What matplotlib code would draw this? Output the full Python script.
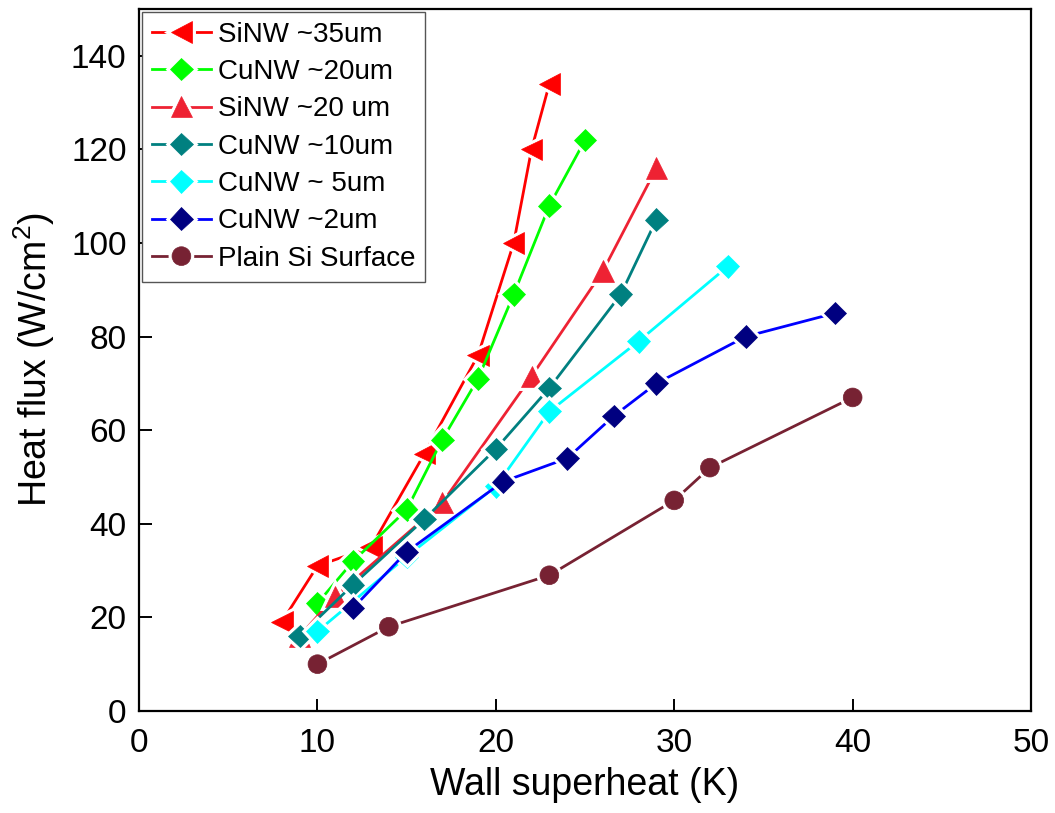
import matplotlib
matplotlib.use("Agg")
import matplotlib.pyplot as plt
import matplotlib.patheffects as pe
from matplotlib.lines import Line2D

plt.rcParams['font.family'] = ['Liberation Sans', 'DejaVu Sans']
plt.rcParams['mathtext.default'] = 'regular'

# Heat flux (W/cm^2) versus wall superheat (K) for each surface
labels = ["SiNW ~35um", "CuNW ~20um", "SiNW ~20 um", "CuNW ~10um",
          "CuNW ~ 5um", "CuNW ~2um", "Plain Si Surface"]

x_sinw35 = [8, 10, 13, 16, 19, 21, 22, 23]
y_sinw35 = [19, 31, 35, 55, 76, 100, 120, 134]

x_cunw20 = [10, 12, 15, 17, 19, 21, 23, 25]
y_cunw20 = [23, 32, 43, 58, 71, 89, 108, 122]

x_sinw20 = [9, 11, 17, 22, 26, 29]
y_sinw20 = [16, 24.5, 44.5, 71.5, 94, 116]

x_cunw10 = [9, 12, 16, 20, 23, 27, 29]
y_cunw10 = [16, 27, 41, 56, 69, 89, 105]

x_cunw5 = [10, 15, 20, 23, 28, 33]
y_cunw5 = [17, 33, 48, 64, 79, 95]

x_cunw2 = [12, 15, 20.4, 24, 26.6, 29, 34, 39]
y_cunw2 = [22, 34, 49, 54, 63, 70, 80, 85]

x_plain = [10, 14, 23, 30, 32, 40]
y_plain = [10, 18, 29, 45, 52, 67]

series = [
    (x_sinw35, y_sinw35, '<', '#FF0000', '#FF0000', 15.5),
    (x_cunw20, y_cunw20, 'D', '#00FF00', '#00FF00', 11.5),
    (x_sinw20, y_sinw20, '^', '#EE2233', '#EE2233', 15.5),
    (x_cunw10, y_cunw10, 'D', '#008080', '#008080', 11.5),
    (x_cunw5, y_cunw5, 'D', '#00FFFF', '#00FFFF', 11.5),
    (x_cunw2, y_cunw2, 'D', '#0000FF', '#000080', 11.5),
    (x_plain, y_plain, 'o', '#772233', '#772233', 13.5),
]

fig = plt.figure(figsize=(10.55, 8.13), dpi=100)
ax = fig.add_axes([0.1318, 0.1255, 0.8455, 0.8634])

# white halo around markers leaves a small gap where the line meets them
halo = [pe.Stroke(linewidth=5, foreground='white'), pe.Normal()]
handles = []
for i, (xs, ys, m, lc, mc, ms) in enumerate(series):
    ax.plot(xs, ys, '-', color=lc, lw=2.0, zorder=2 + 2 * i,
            solid_capstyle='butt')
    ax.plot(xs, ys, linestyle='none', marker=m, ms=ms,
            markerfacecolor=mc, markeredgecolor=mc, markeredgewidth=0.5,
            zorder=3 + 2 * i, path_effects=halo)
    handles.append(Line2D([], [], color=lc, lw=2.0, marker=m, ms=ms,
                          markerfacecolor=mc, markeredgecolor=mc,
                          markeredgewidth=0.5, path_effects=halo))

ax.set_xlim(0, 50)
ax.set_ylim(0, 150)
ax.set_xticks([0, 10, 20, 30, 40, 50])
ax.set_yticks([0, 20, 40, 60, 80, 100, 120, 140])

for s in ax.spines.values():
    s.set_linewidth(1.6)
ax.tick_params(direction='in', length=9, width=1.4, labelsize=24,
               top=False, right=False)
ax.tick_params(axis='x', pad=12)
ax.tick_params(axis='y', pad=9)

ax.set_xlabel('Wall superheat (K)', fontsize=27, labelpad=6)
ax.set_ylabel('Heat flux (W/cm$^{2}$)', fontsize=27, labelpad=10)

leg = ax.legend(handles, labels, loc='upper left', fontsize=20,
                handlelength=2.15, handletextpad=0.25, labelspacing=0.41,
                borderpad=0.35, borderaxespad=0.1, fancybox=False,
                framealpha=1, edgecolor='#555555', numpoints=1)
leg.get_frame().set_linewidth(1.0)
leg.set_zorder(30)

fig.savefig('out.png', dpi=100, facecolor='white')
